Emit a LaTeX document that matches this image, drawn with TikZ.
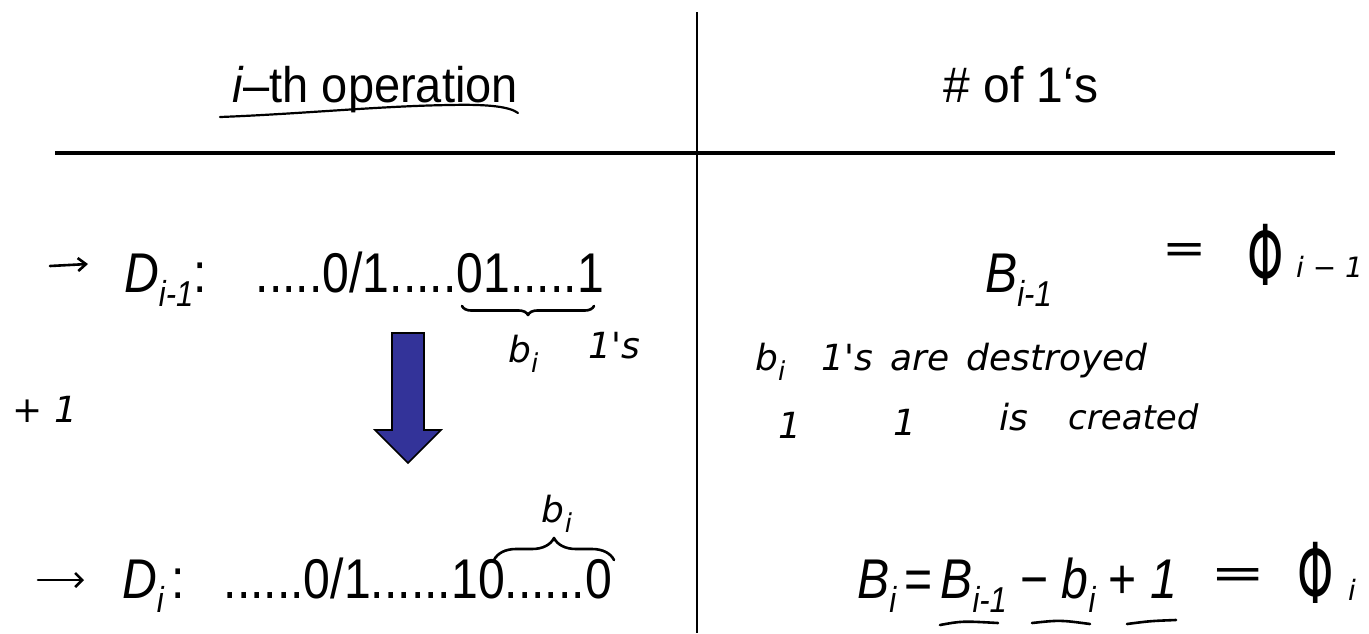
\documentclass[tikz,border=0pt]{standalone}
\usepackage{fontspec}
\newfontfamily\arial{Liberation Sans}
\newfontfamily\djs{DejaVu Sans}
\usepackage{graphicx}
\usetikzlibrary{decorations.pathreplacing,arrows.meta}
\definecolor{arrowblue}{RGB}{51,51,153}
\newcommand\sz[1]{\fontsize{#1}{#1}\selectfont}
\newcommand\xs[2]{\scalebox{#1}[1]{#2}}
\newcommand\sbi[1]{\raisebox{-0.25em}{\sz{36}\itshape #1}}
\newcommand\hsub[1]{\raisebox{-0.3em}{\sz{26}#1}}
\tikzset{
  hdr/.style={font=\arial\sz{50}, anchor=base, inner sep=0pt},
  big/.style={font=\arial\sz{56}, inner sep=0pt, anchor=base west},
  hw/.style={font=\djs\itshape\sz{36}, inner sep=0pt, anchor=base west},
  pen/.style={line width=2.6pt, line cap=round, line join=round},
  bluearrow/.style={draw=black, line width=1.6pt, fill=arrowblue},
}
\begin{document}
\begin{tikzpicture}[x=1pt,y=-1pt]
\useasboundingbox (0,0) rectangle (1369,633);
% table rules
\coordinate (vt) at (697,12); \coordinate (vb) at (697,633);
\coordinate (hl) at (55,153); \coordinate (hr) at (1335,153);
\draw[line width=2pt] (vt) -- (vb);
\draw[line width=3.2pt] (hl) -- (hr);
% headers
\node[hdr] (h1) at (375,102) {\xs{0.94}{\textit{i}–th operation}};
\node[hdr] (h2) at (1021,102) {\xs{0.96}{\# of 1‘s}};
\draw[pen,line width=2.2pt] (220,117) .. controls (300,114) and (380,106) .. (450,105) .. controls (490,104) and (510,107) .. (518,113);
% row 1 left
\coordinate (a1s) at (50,266); \coordinate (a1e) at (88,264);
\draw[pen,-{Straight Barb[length=8pt,width=13pt]}] (a1s) -- (a1e);
\node[big] (d1) at (124,292) {\xs{0.86}{\textit{D}\sbi{i-1}:}};
\node[big,anchor=base east] (s1) at (604,292) {\xs{0.86}{.....0/1.....01.....1}};
\coordinate (u1l) at (462,306); \coordinate (u1r) at (594,306);
\draw[pen,decorate,decoration={brace,mirror,amplitude=9pt}] (u1l) -- (u1r);
\node[hw] (bi1) at (508,362) {b\hsub{i}};
\node[hw] (on1) at (588,358) {1's};
\node[hw] (plus) at (12,422) {+\,\,1};
% blue arrow
\draw[bluearrow] (392,333) -- (424,333) -- (424,430) -- (441,430) -- (408,463) -- (375,430) -- (392,430) -- cycle;
% row 2 left
\node[hw,anchor=base] (bi2) at (557,522) {b\hsub{i}};
\coordinate (o2l) at (494,560); \coordinate (o2r) at (614,560);
\draw[pen,decorate,decoration={brace,amplitude=22pt}] (o2l) -- (o2r);
\coordinate (a2s) at (38,580); \coordinate (a2e) at (84,580);
\draw[pen,-{Straight Barb[length=7pt,width=14pt]}] (a2s) -- (a2e);
\node[big] (d2) at (122,598) {\xs{0.86}{\textit{D}\sbi{i}\,:}};
\node[big,anchor=base east] (s2) at (612,598) {\xs{0.86}{......0/1......10......0}};
% row 1 right
\node[big] (b1) at (985,292) {\xs{0.86}{\textit{B}\sbi{i-1}}};
\node[font=\djs\sz{44}, inner sep=0pt] (eq1) at (1185,254) {\xs{1.2}{=}};
\node[font=\djs\sz{84}, inner sep=0pt, anchor=base] (phi1) at (1266,285) {\xs{0.55}{Φ}};
\node[hw, font=\djs\itshape\sz{28}] (ph1s) at (1296,277) {i − 1};
\node[hw] (l2) at (755,370) {b\hsub{i}\quad 1's\, are\, destroyed};
\node[hw] (c1) at (778,438) {1};
\node[hw] (c2) at (893,435) {1};
\node[hw] (c3) at (999,430) {is};
\node[hw,font=\djs\itshape\sz{34}] (c4) at (1068,429) {created};
% row 2 right
\node[big] (b2) at (857,598) {\xs{0.86}{\textit{B}\sbi{i}\,=\,\textit{B}\sbi{i-1} − \textit{b}\sbi{i} + \textit{1}}};
\draw[pen] (940,625) .. controls (962,621) .. (998,623);
\draw[pen] (1032,623) .. controls (1060,620) .. (1090,624);
\draw[pen] (1127,624) .. controls (1150,621) .. (1176,620);
\node[font=\djs\sz{44}, inner sep=0pt] (eq2) at (1238,578) {\xs{1.5}{=}};
\node[font=\djs\sz{84}, inner sep=0pt, anchor=base] (phi2) at (1316,603) {\xs{0.55}{Φ}};
\node[hw, font=\djs\itshape\sz{28}] (ph2s) at (1348,600) {i};
\end{tikzpicture}
\end{document}
